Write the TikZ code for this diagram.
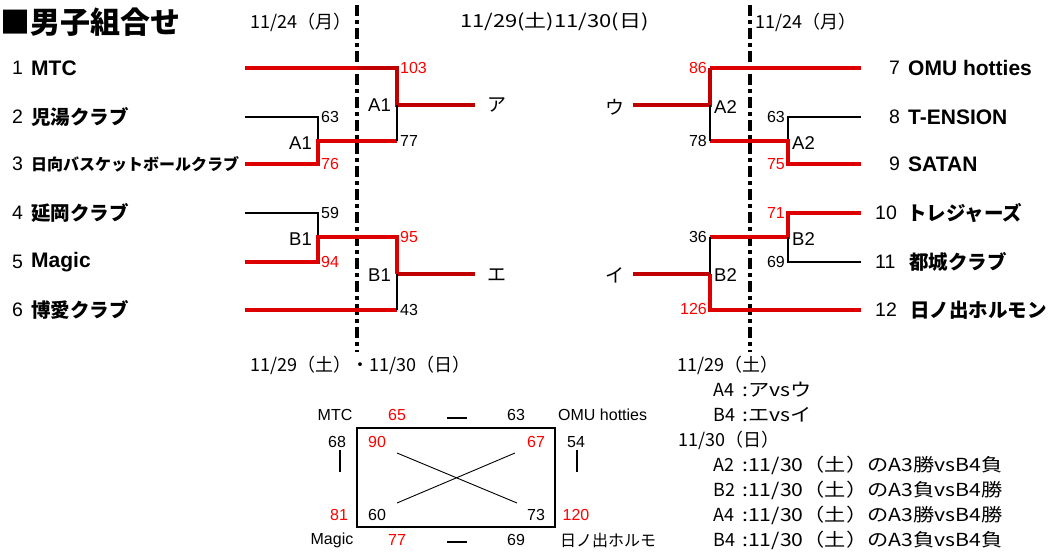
\documentclass[tikz,border=0pt]{standalone}
\usepackage{fontspec}
\setmainfont{Liberation Sans}
\newfontfamily\jp{Noto Sans CJK JP}
\newfontfamily\jpw[FakeStretch=1.18]{Noto Sans CJK JP}
\newfontfamily\jpww[FakeStretch=1.22]{Noto Sans CJK JP}
\definecolor{redA}{RGB}{222,0,0}
\definecolor{redB}{RGB}{192,0,0}
\definecolor{rtxt}{RGB}{255,0,0}
\tikzset{
 winA/.style={draw=redA,line width=3.5pt},
 winB/.style={draw=redB,line width=3.5pt},
 lose/.style={draw=black,line width=1.4pt},
 divider/.style={draw=black,line width=3.8pt,dash pattern=on 11pt off 4pt on 4pt off 4pt},
 sc/.style={inner sep=0pt,font=\fontsize{16}{16}\selectfont},
 rsc/.style={sc,text=rtxt},
 rnd/.style={inner sep=0pt,anchor=west,font=\fontsize{18.5}{18}\selectfont},
 kana/.style={inner sep=0pt,font=\jp\fontsize{19}{19}\selectfont},
 datelbl/.style={inner sep=0pt,anchor=west,font=\jp\fontsize{18}{18}\selectfont},
 num/.style={inner sep=0pt,anchor=west,font=\fontsize{19.5}{19}\selectfont},
 nameL/.style={inner sep=0pt,anchor=west,font=\bfseries\fontsize{21}{21}\selectfont},
 nameJ/.style={inner sep=0pt,anchor=west,font=\jp\bfseries\fontsize{19.5}{19}\selectfont},
 tb/.style={inner sep=0pt,font=\fontsize{16}{16}\selectfont},
 rtb/.style={tb,text=rtxt},
 info/.style={inner sep=0pt,anchor=west,font=\jp\fontsize{18}{18}\selectfont},
 infow/.style={inner sep=0pt,anchor=west,font=\jpw\fontsize{18}{18}\selectfont},
 thinbar/.style={draw=black,line width=1.5pt},
}
\begin{document}
\begin{tikzpicture}[x=1pt,y=-1pt]
\fill[white] (0,0) rectangle (1049,553);
\useasboundingbox (0,0) rectangle (1049,553);

% title and dates
\node[inner sep=0pt,anchor=west,font=\jp\bfseries\fontsize{30}{30}\selectfont] (title) at (0,22) {■男子組合せ};
\node[datelbl] (d1) at (250,22) {11/24（月）};
\node[datelbl,font=\jpww\fontsize{18}{18}\selectfont] (d2) at (460,22) {11/29(土)11/30(日)};
\node[datelbl] (d3) at (755,22) {11/24（月）};
\node[datelbl] (d4) at (250,365) {11/29（土）・11/30（日）};
\node[datelbl] (d5) at (677,365) {11/29（土）};

% dividers
\coordinate (dl1) at (357,5); \coordinate (dl2) at (357,352);
\coordinate (dr1) at (750,5); \coordinate (dr2) at (750,352);
\draw[divider] (dl1) -- (dl2);
\draw[divider] (dr1) -- (dr2);

% left team labels
\node[num] (n1) at (12,68) {1};  \node[nameL] (t1) at (31,68) {MTC};
\node[num] (n2) at (12,117) {2}; \node[nameJ] (t2) at (31,117) {児湯クラブ};
\node[num] (n3) at (12,164) {3}; \node[nameJ,font=\jp\bfseries\fontsize{16}{16}\selectfont] (t3) at (31,164) {日向バスケットボールクラブ};
\node[num] (n4) at (12,213) {4}; \node[nameJ] (t4) at (31,213) {延岡クラブ};
\node[num] (n5) at (12,262) {5}; \node[nameL] (t5) at (31,262) {Magic};
\node[num] (n6) at (12,310) {6}; \node[nameJ] (t6) at (31,310) {博愛クラブ};

% right team labels
\node[num] (n7) at (889,68) {7};   \node[nameL] (t7) at (908,68) {OMU hotties};
\node[num] (n8) at (889,117) {8};  \node[nameL] (t8) at (908,117) {T-ENSION};
\node[num] (n9) at (889,164) {9};  \node[nameL] (t9) at (908,164) {SATAN};
\node[num] (n10) at (875,213) {10}; \node[nameJ] (t10) at (907,213) {トレジャーズ};
\node[num] (n11) at (875,262) {11}; \node[nameJ] (t11) at (909,262) {都城クラブ};
\node[num] (n12) at (875,310) {12}; \node[nameJ] (t12) at (910,310) {日ノ出ホルモン};

% left bracket
\draw[winA] (245,68) -- (357,68);
\draw[winB] (357,68) -- (397,68) -- (397,105) -- (475,105);
\draw[lose] (245,117) -- (318,117) -- (318,141);
\draw[winA] (245,164) -- (318,164) -- (318,141) -- (397,141);
\draw[lose] (397,141) -- (397,105);
\draw[lose] (245,213) -- (318,213) -- (318,237);
\draw[winA] (245,262) -- (318,262) -- (318,237) -- (397,237) -- (397,274);
\draw[winB] (397,274) -- (475,274);
\draw[winA] (245,310) -- (397,310);
\draw[lose] (397,310) -- (397,274);

% right bracket
\draw[winA] (861,68) -- (710,68);
\draw[winB] (710,68) -- (710,105) -- (633,105);
\draw[lose] (861,117) -- (788,117) -- (788,141);
\draw[winA] (861,164) -- (788,164) -- (788,141) -- (710,141);
\draw[lose] (710,141) -- (710,105);
\draw[winA] (861,213) -- (788,213) -- (788,237) -- (710,237);
\draw[lose] (710,237) -- (710,274);
\draw[lose] (861,262) -- (788,262) -- (788,237);
\draw[winA] (861,310) -- (710,310) -- (710,274);
\draw[winB] (710,274) -- (633,274);

% left scores
\node[rsc,anchor=west] (s1) at (400,68) {103};
\node[sc,anchor=west] (s2) at (321,117) {63};
\node[rsc,anchor=west] (s3) at (321,164) {76};
\node[sc,anchor=west] (s4) at (400,141) {77};
\node[sc,anchor=west] (s5) at (321,213) {59};
\node[rsc,anchor=west] (s6) at (321,262) {94};
\node[rsc,anchor=west] (s7) at (400,237) {95};
\node[sc,anchor=west] (s8) at (400,310) {43};
% right scores
\node[rsc,anchor=east] (s9) at (707,68) {86};
\node[sc,anchor=east] (s10) at (707,141) {78};
\node[sc,anchor=east] (s11) at (785,117) {63};
\node[rsc,anchor=east] (s12) at (785,164) {75};
\node[rsc,anchor=east] (s13) at (785,213) {71};
\node[sc,anchor=east] (s14) at (707,237) {36};
\node[sc,anchor=east] (s15) at (785,262) {69};
\node[rsc,anchor=east] (s16) at (707,309) {126};

% round labels
\node[rnd] (r1) at (289,143) {A1};
\node[rnd] (r2) at (368,105) {A1};
\node[rnd] (r3) at (289,239) {B1};
\node[rnd] (r4) at (368,275) {B1};
\node[rnd] (r5) at (714,107) {A2};
\node[rnd] (r6) at (792,143) {A2};
\node[rnd] (r7) at (792,239) {B2};
\node[rnd] (r8) at (714,275) {B2};

% kana
\node[kana] (ka) at (497,105) {ア};
\node[kana] (ke) at (497,275) {エ};
\node[kana] (ku) at (615,107) {ウ};
\node[kana] (ki) at (615,275) {イ};

% table
\node[draw=black,line width=2pt,inner sep=0pt,minimum width=198pt,minimum height=99pt] (tbl) at (456,477.5) {};
\coordinate (x1) at (397,453); \coordinate (x2) at (517,503);
\coordinate (x3) at (397,503); \coordinate (x4) at (515,453);
\draw[line width=0.9pt] (x1) -- (x2);
\draw[line width=0.9pt] (x3) -- (x4);
\node[tb] (m1) at (335,415) {MTC};
\node[rtb] (m2) at (397,415) {65};
\node[tb] (m3) at (516,415) {63};
\node[tb,anchor=west] (m4) at (558,415) {OMU hotties};
\node[tb] (m5) at (337,442) {68};
\node[rtb] (m6) at (377,442) {90};
\node[rtb] (m7) at (536,442) {67};
\node[tb] (m8) at (576,442) {54};
\node[rtb] (m9) at (339,515) {81};
\node[tb] (m10) at (377,515) {60};
\node[tb] (m11) at (536,515) {73};
\node[rtb] (m12) at (576,515) {120};
\node[tb] (m13) at (332,540) {Magic};
\node[rtb] (m14) at (397,540) {77};
\node[tb] (m15) at (516,540) {69};
\node[tb,anchor=west,font=\jp\fontsize{16}{16}\selectfont] (m16) at (560,540) {日ノ出ホルモ};
\coordinate (h1) at (447,418); \coordinate (h2) at (467,418);
\coordinate (h3) at (447,542); \coordinate (h4) at (467,542);
\draw[thinbar] (h1) -- (h2);
\draw[thinbar] (h3) -- (h4);
\coordinate (v1) at (340,450); \coordinate (v2) at (340,472);
\coordinate (v3) at (577,450); \coordinate (v4) at (577,472);
\draw[thinbar] (v1) -- (v2);
\draw[thinbar] (v3) -- (v4);

% schedule text
\node[info] (i1a) at (713,390) {A4}; \node[infow] (i1b) at (742,390) {:アvsウ};
\node[info] (i2a) at (713,415) {B4}; \node[infow] (i2b) at (742,415) {:エvsイ};
\node[info] (i3) at (678,440) {11/30（日）};
\node[info] (i4a) at (713,465) {A2}; \node[infow] (i4b) at (742,465) {:11/30（土）のA3勝vsB4負};
\node[info] (i5a) at (713,490) {B2}; \node[infow] (i5b) at (742,490) {:11/30（土）のA3負vsB4勝};
\node[info] (i6a) at (713,515) {A4}; \node[infow] (i6b) at (742,515) {:11/30（土）のA3勝vsB4勝};
\node[info] (i7a) at (713,540) {B4}; \node[infow] (i7b) at (742,540) {:11/30（土）のA3負vsB4負};
\end{tikzpicture}
\end{document}
